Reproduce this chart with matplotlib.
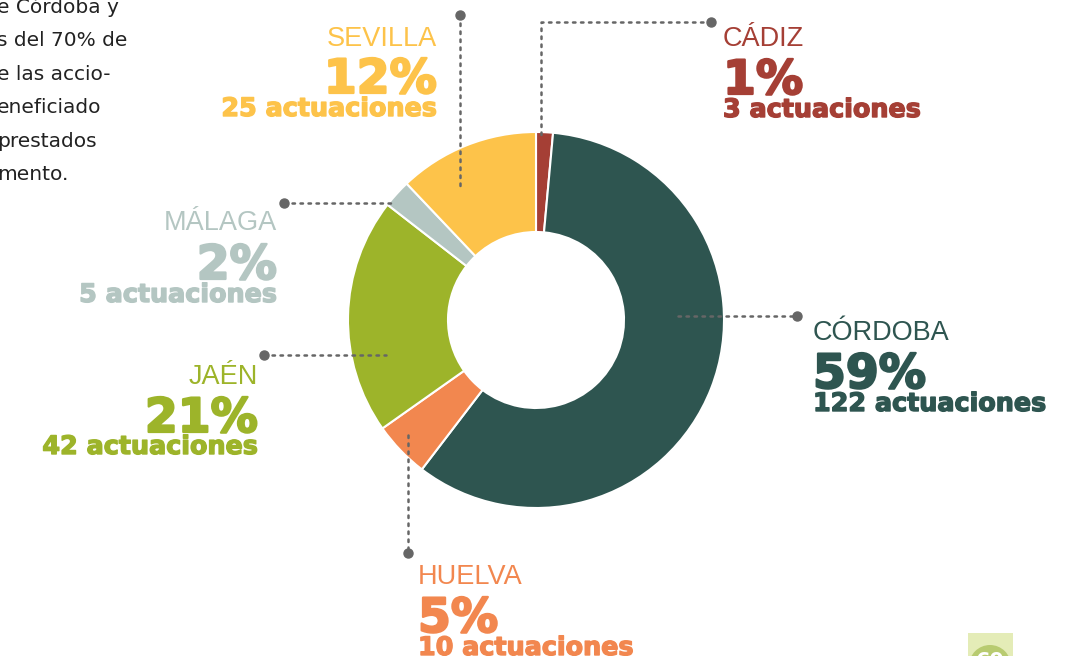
import matplotlib
matplotlib.use("Agg")
import matplotlib.pyplot as plt
from matplotlib.patches import Rectangle, Circle
import matplotlib.patheffects as pe

# ---- data ----
regions = ['CÁDIZ', 'CÓRDOBA', 'HUELVA', 'JAÉN', 'MÁLAGA', 'SEVILLA']
actuaciones = [3, 122, 10, 42, 5, 25]
pct_labels = ['1%', '59%', '5%', '21%', '2%', '12%']
colors = ['#A53F35', '#2E5550', '#F2874F', '#9DB42A', '#B4C6C2', '#FDC34A']

para_lines = ['e Córdoba y', 's del 70% de', 'e las accio-', 'eneficiado', 'prestados', 'mento.']

W, H = 1087, 656
fig = plt.figure(figsize=(W / 100, H / 100), dpi=100)
ax = fig.add_axes([0, 0, 1, 1])

def Y(y):
    return H - y

cx, cy, R, r_in = 536, 320, 188, 88
ax.pie(actuaciones, colors=colors, startangle=90, counterclock=False,
       center=(cx, Y(cy)), radius=R,
       wedgeprops=dict(width=R - r_in, edgecolor='white', linewidth=1.5))
ax.set_xlim(0, W)
ax.set_ylim(0, H)
ax.set_aspect('auto')
ax.axis('off')

gray = '#666666'
def leader(xs, ys, dot):
    ax.plot(xs, [Y(v) for v in ys], color=gray, lw=1.8, ls=(0, (1, 2.2)),
            solid_capstyle='round', dash_capstyle='round', zorder=5)
    ax.plot([dot[0]], [Y(dot[1])], 'o', color=gray, ms=6.5, zorder=6)

# leader lines (pixel layout)
leader([460, 460], [15, 190], (460, 15))            # Sevilla
leader([711, 541, 541], [22, 22, 136], (711, 22))   # Cádiz
leader([284, 392], [203, 203], (284, 203))          # Málaga
leader([264, 386], [355, 355], (264, 355))          # Jaén
leader([408, 408], [435, 553], (408, 553))          # Huelva
leader([678, 797], [316, 316], (797, 316))          # Córdoba

# label positions: (x, ha, name baseline, pct baseline, act baseline)
label_pos = {
    'CÁDIZ':   (723, 'left', 46, 94, 117),
    'CÓRDOBA': (813, 'left', 340, 388, 411),
    'HUELVA':  (418, 'left', 584, 632, 655),
    'JAÉN':    (258, 'right', 384, 432, 454),
    'MÁLAGA':  (277, 'right', 230, 279, 302),
    'SEVILLA': (437, 'right', 46, 93, 116),
}

for name, n, pct, col in zip(regions, actuaciones, pct_labels, colors):
    x, ha, yn, yp, ya = label_pos[name]
    ax.text(x, Y(yn), name, ha=ha, va='baseline', color=col,
            fontsize=19.5, family='Liberation Sans')
    ax.text(x, Y(yp), pct, ha=ha, va='baseline', color=col,
            fontsize=34, family='DejaVu Sans', fontweight='bold',
            path_effects=[pe.withStroke(linewidth=1.6, foreground=col)])
    ax.text(x, Y(ya), f'{n} actuaciones', ha=ha, va='baseline', color=col,
            fontsize=18.3, family='DejaVu Sans', fontweight='bold',
            path_effects=[pe.withStroke(linewidth=1.0, foreground=col)])

# cropped paragraph text at top-left
for i, line in enumerate(para_lines):
    ax.text(-3, Y(13 + i * 33.4), line, ha='left', va='baseline',
            color='#222222', fontsize=14.5, family='DejaVu Sans')

# page badge (cropped)
ax.add_patch(Rectangle((968, Y(656)), 45, 23, facecolor='#E4ECB7',
                       edgecolor='none', zorder=1))
ax.add_patch(Circle((990, Y(666)), 21, facecolor='#B8CB70',
                    edgecolor='none', zorder=2))
ax.text(990, Y(662), '69', ha='center', va='center', color='white',
        fontsize=15, family='DejaVu Sans', fontweight='bold', zorder=3)

fig.savefig('out.png', dpi=100)
